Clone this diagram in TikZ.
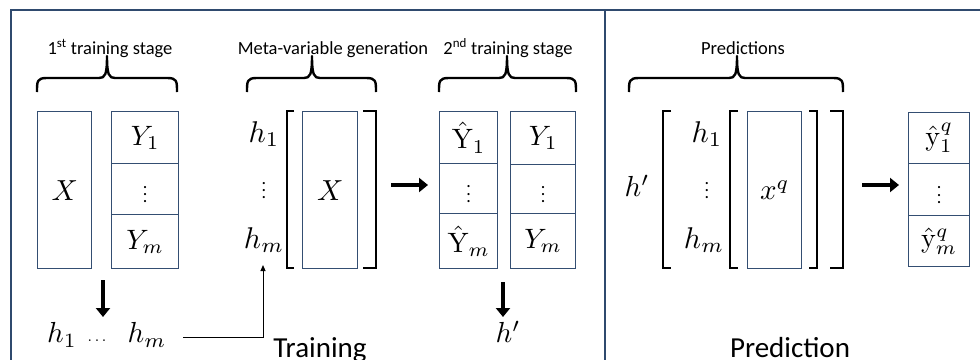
\documentclass[tikz,border=0pt]{standalone}
\usepackage{graphicx}
\usepackage[no-math]{fontspec}
\setmainfont{Carlito}
\usetikzlibrary{arrows.meta}
\definecolor{framec}{RGB}{47,74,110}
\definecolor{boxc}{RGB}{52,78,114}
\newcommand{\mtx}[2][2.8]{\scalebox{#1}{$#2$}}
\newcommand{\dbrace}[3]{%
  \draw[bracec] (#1,92) .. controls (#1,81) and (#1,78) .. (#1+10,78) -- (#2-8,78)
    .. controls (#2-2,78) and (#2,75) .. (#2,56)
    .. controls (#2,75) and (#2+2,78) .. (#2+8,78) -- (#3-10,78)
    .. controls (#3,78) and (#3,81) .. (#3,92);}
\tikzset{
  bx/.style={draw=boxc, line width=1.4pt, inner sep=0pt, anchor=north west},
  hlab/.style={inner sep=0pt},
  stagelab/.style={inner sep=0pt, anchor=base, font=\fontsize{18.5}{21}\selectfont},
  biglab/.style={inner sep=0pt, anchor=base, font=\fontsize{29}{32}\selectfont},
  bracec/.style={line width=2.4pt, line join=round},
  brk/.style={line width=2.2pt},
  fatarrow/.style={line width=4.8pt, -{Triangle[length=9pt,width=14pt]}},
  thinarrow/.style={line width=1pt, -{Triangle[length=6pt,width=5pt]}},
}
\begin{document}
\begin{tikzpicture}[x=1pt,y=-1pt]
\useasboundingbox (0,0) rectangle (980,359);
\clip (0,0) rectangle (980,359);
% frame
\draw[framec, line width=2pt] (11,365) -- (11,10) -- (985,10);
\draw[framec, line width=2pt] (605,10) -- (605,365);

% labels and braces
\node[stagelab] (l1) at (110,54) {1\textsuperscript{st} training stage};
\node[stagelab] (l2) at (333,54) {Meta-variable generation};
\node[stagelab] (l3) at (508,54) {2\textsuperscript{nd} training stage};
\node[stagelab] (l4) at (743,54) {Predictions};
\dbrace{37}{107}{177}
\dbrace{247}{312}{376}
\dbrace{439}{507}{576}
\dbrace{629}{737}{843}

% 1st stage
\node[bx, minimum width=54pt, minimum height=157pt] (X1) at (37,111) {\mtx[2.9]{X}};
\node[bx, minimum width=67pt, minimum height=52pt] (Y1) at (111,111) {\mtx{Y_1}};
\node[bx, minimum width=67pt, minimum height=51pt] (Yd) at (111,163) {\mtx[1.8]{\vdots}};
\node[bx, minimum width=67pt, minimum height=54pt] (Ym) at (111,214) {\mtx{Y_m}};

% meta-variable generation
\node[hlab] (h1) at (264,134) {\mtx[3.0]{h_1}};
\node[hlab] (hd) at (264,185) {\mtx[1.8]{\vdots}};
\node[hlab] (hm) at (264,240) {\mtx[3.0]{h_m}};
\draw[brk] (294,111) -- (287,111) -- (287,268) -- (294,268);
\node[bx, minimum width=55pt, minimum height=157pt] (X2) at (302,111) {\mtx[2.9]{X}};
\draw[brk] (363,111) -- (376,111) -- (376,268) -- (363,268);

% 2nd stage
\node[bx, minimum width=58pt, minimum height=52pt] (H1) at (439,111) {\mtx{\hat{\mathrm{Y}}_1}};
\node[bx, minimum width=58pt, minimum height=50pt] (Hd) at (439,163) {\mtx[1.8]{\vdots}};
\node[bx, minimum width=58pt, minimum height=55pt] (Hm) at (439,213) {\mtx{\hat{\mathrm{Y}}_m}};
\node[bx, minimum width=65pt, minimum height=53pt] (Z1) at (510,111) {\mtx{Y_1}};
\node[bx, minimum width=65pt, minimum height=49pt] (Zd) at (510,164) {\mtx[1.8]{\vdots}};
\node[bx, minimum width=65pt, minimum height=55pt] (Zm) at (510,213) {\mtx{Y_m}};

\coordinate (a1) at (391,185);
\draw[fatarrow, shorten >=11pt] (a1) -- (a1 -| H1.west);

% bottom row
\node[hlab] (hb1) at (62,335) {\mtx[2.9]{h_1}};
\node[hlab] (hbd) at (97,341) {\mtx[1.6]{\ldots}};
\node[hlab] (hbm) at (147,335) {\mtx[2.9]{h_m}};
\coordinate (d1) at (103,280);
\draw[fatarrow] (d1) -- (103,317);
\coordinate (c0) at (183,337);
\coordinate (c1) at (263,265);
\draw[thinarrow] (c0) -| (c1);

\coordinate (d2) at (503,282);
\node[hlab] (hp) at (508,332) {\mtx[2.9]{h'}};
\draw[fatarrow] (d2) -- (503,317);

\node[biglab] (tr) at (320,357) {Training};

% prediction
\node[hlab] (hq) at (637,186) {\mtx[2.9]{h'}};
\draw[brk] (671,111) -- (663,111) -- (663,268) -- (671,268);
\node[hlab] (p1) at (707,134) {\mtx[3.0]{h_1}};
\node[hlab] (pd) at (707,185) {\mtx[1.8]{\vdots}};
\node[hlab] (pm) at (704,240) {\mtx[3.0]{h_m}};
\draw[brk] (738,111) -- (730,111) -- (730,268) -- (738,268);
\node[bx, minimum width=54pt, minimum height=157pt] (Xq) at (747,111) {\mtx[2.9]{x^q}};
\draw[brk] (809,111) -- (817,111) -- (817,268) -- (809,268);
\draw[brk] (830,111) -- (843,111) -- (843,268) -- (830,268);

\node[bx, minimum width=61pt, minimum height=51pt] (q1) at (908,112) {\mtx{\hat{\mathrm{y}}^q_1}};
\node[bx, minimum width=61pt, minimum height=52pt] (qd) at (908,163) {\mtx[1.8]{\vdots}};
\node[bx, minimum width=61pt, minimum height=51pt] (qm) at (908,215) {\mtx{\hat{\mathrm{y}}^q_m}};
\coordinate (a2) at (862,185);
\draw[fatarrow, shorten >=9pt] (a2) -- (a2 -| q1.west);

\node[biglab] (pr) at (790,357) {Prediction};
\end{tikzpicture}
\end{document}
